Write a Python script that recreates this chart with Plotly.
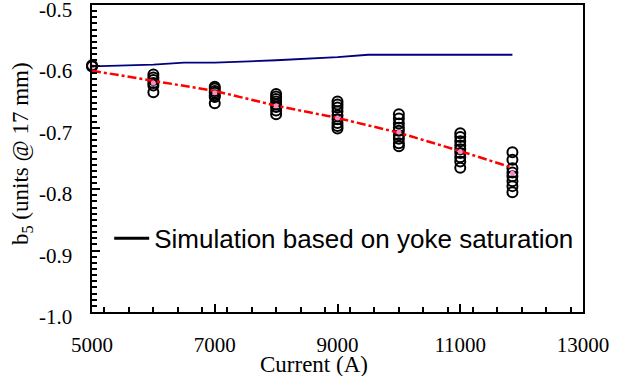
import plotly.graph_objects as go

# ---- data ----
sim_current = [5000, 6000, 6500, 7000, 8000, 9000, 9500, 10000, 11000, 11850]
sim_b5 = [-0.600, -0.597, -0.594, -0.594, -0.590, -0.585, -0.581, -0.581, -0.581, -0.581]

fit_current = [5000, 6000, 7000, 8000, 9000, 10000, 11000, 11850]
fit_b5 = [-0.607, -0.623, -0.640, -0.664, -0.684, -0.708, -0.738, -0.765]

mean_current = [5000, 6000, 7000, 8000, 9000, 10000, 11000, 11850]
mean_b5 = [-0.600, -0.627, -0.643, -0.664, -0.684, -0.707, -0.739, -0.774]

meas = {
    5000: [-0.600, -0.598],
    6000: [-0.613, -0.618, -0.622, -0.627, -0.631, -0.642],
    7000: [-0.633, -0.636, -0.640, -0.643, -0.647, -0.650, -0.660],
    8000: [-0.645, -0.649, -0.653, -0.657, -0.662, -0.666, -0.672, -0.678],
    9000: [-0.657, -0.662, -0.667, -0.673, -0.680, -0.686, -0.692, -0.697, -0.701],
    10000: [-0.678, -0.685, -0.693, -0.700, -0.705, -0.712, -0.718, -0.725, -0.730],
    11000: [-0.709, -0.715, -0.722, -0.729, -0.735, -0.741, -0.748, -0.755, -0.765],
    11850: [-0.740, -0.752, -0.766, -0.773, -0.779, -0.787, -0.795, -0.805],
}

x_tickvals = [5000, 7000, 9000, 11000, 13000]
x_ticktext = ["5000", "7000", "9000", "11000", "13000"]
y_tickvals = [-0.5, -0.6, -0.7, -0.8, -0.9, -1.0]
y_ticktext = ["-0.5", "-0.6", "-0.7", "-0.8", "-0.9", "-1.0"]

legend_label = "Simulation based on yoke saturation"
x_title = "Current (A)"
y_title = "b<sub>5</sub> (units @ 17 mm)"

meas_x = [c for c, vals in meas.items() for _ in vals]
meas_y = [v for vals in meas.values() for v in vals]

SERIF = "Liberation Serif, Times New Roman, serif"

fig = go.Figure()
fig.add_trace(go.Scatter(
    x=meas_x, y=meas_y, mode="markers", showlegend=False, cliponaxis=False,
    marker=dict(symbol="circle-open", size=10, color="black", line=dict(width=2, color="black")),
))
fig.add_trace(go.Scatter(
    x=fit_current, y=fit_b5, mode="lines", showlegend=False,
    line=dict(color="#ff0000", width=2.5, dash="dashdot"),
))
fig.add_trace(go.Scatter(
    x=mean_current, y=mean_b5, mode="markers", showlegend=False, cliponaxis=False,
    marker=dict(symbol="circle", size=5, color="#ff88c8"),
))
fig.add_trace(go.Scatter(
    x=sim_current, y=sim_b5, mode="lines", showlegend=False,
    line=dict(color="#000080", width=1.8),
))
# legend entry (drawn in black in the reference)
fig.add_trace(go.Scatter(
    x=[None], y=[None], mode="lines", name=legend_label, showlegend=True,
    line=dict(color="black", width=3),
))

axis_common = dict(
    showline=True, linecolor="black", linewidth=2, mirror=True,
    ticks="inside", tickcolor="black", tickwidth=2,
    showgrid=False, zeroline=False, automargin=False,
)

fig.update_xaxes(
    range=[5000, 13000], tickvals=x_tickvals, ticktext=x_ticktext,
    ticklen=8, ticklabelstandoff=13,
    tickfont=dict(family=SERIF, size=21, color="black"),
    minor=dict(dtick=400, ticks="inside", ticklen=5, tickcolor="black", tickwidth=2, showgrid=False),
    **axis_common,
)
fig.update_yaxes(
    range=[-1.0, -0.5], tickvals=y_tickvals, showticklabels=False,
    ticklen=8,
    minor=dict(dtick=0.01, ticks="inside", ticklen=5, tickcolor="black", tickwidth=1.5, showgrid=False),
    **axis_common,
)

# y tick labels (sit slightly below their ticks in the reference)
for v, t in zip(y_tickvals, y_ticktext):
    fig.add_annotation(
        text=t, xref="paper", yref="y", x=0, y=v, xanchor="right", yanchor="middle",
        xshift=-19, yshift=-5, showarrow=False, borderpad=0,
        font=dict(family=SERIF, size=21, color="black"),
    )

fig.add_annotation(
    text=x_title, xref="paper", yref="paper", x=0.452, y=-0.172,
    xanchor="center", yanchor="middle", showarrow=False, borderpad=0,
    font=dict(family=SERIF, size=23, color="black"),
)
fig.add_annotation(
    text=y_title, xref="paper", yref="paper", x=-0.1426, y=0.518,
    xanchor="center", yanchor="middle", showarrow=False, textangle=-90,
    font=dict(family=SERIF, size=23, color="black"),
)

fig.update_layout(
    width=635, height=376,
    margin=dict(l=92, r=52, t=5, b=64),
    plot_bgcolor="white", paper_bgcolor="white",
    showlegend=True,
    legend=dict(
        x=0.035, y=0.24, xanchor="left", yanchor="middle",
        bgcolor="rgba(0,0,0,0)", borderwidth=0,
        font=dict(family="Liberation Sans, Arial, sans-serif", size=26, color="black"),
        itemwidth=35,
    ),
)

fig.write_html("out.html")
